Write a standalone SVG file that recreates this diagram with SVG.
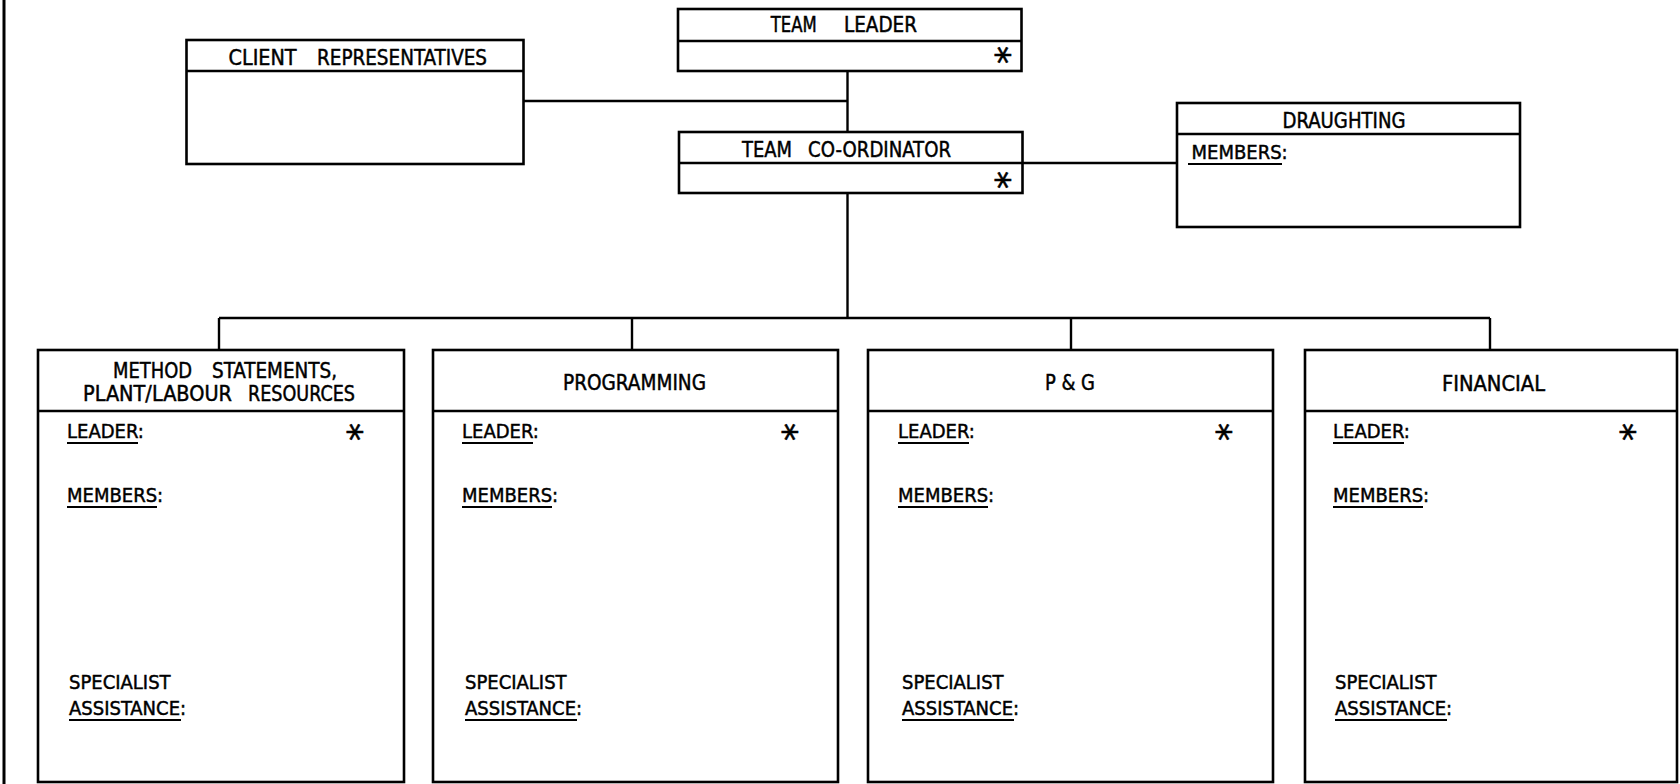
<svg xmlns="http://www.w3.org/2000/svg" width="1680" height="784" viewBox="0 0 1680 784">
<style>
  .box { fill: #fff; stroke: #000; stroke-width: 2.6; }
  .div { stroke: #000; stroke-width: 2.4; fill: none; }
  .conn { stroke: #000; stroke-width: 2.4; fill: none; }
  .ul { stroke: #000; stroke-width: 2; }
  text { font-family: "DejaVu Sans Condensed", "DejaVu Sans", sans-serif; fill: #000; stroke: #000; stroke-width: 0.45; }
  .hdr { font-size: 21px; }
  .lbl { font-size: 20px; }
  .ast { font-family: "DejaVu Sans", sans-serif; font-size: 36px; text-anchor: middle; stroke-width: 0.6; }
</style>
<rect x="0" y="0" width="1680" height="784" fill="#fff"/>
<line x1="4" y1="0" x2="4" y2="784" stroke="#000" stroke-width="3"/>

<g id="connectors">
  <path class="conn" d="M523.5 101 H847.5"/>
  <path class="conn" d="M847.5 71 V132"/>
  <path class="conn" d="M1022.5 163 H1177"/>
  <path class="conn" d="M847.5 193 V318"/>
  <path class="conn" d="M219 318 H1490"/>
  <path class="conn" d="M219 318 V350"/>
  <path class="conn" d="M632 318 V350"/>
  <path class="conn" d="M1071 318 V350"/>
  <path class="conn" d="M1490 318 V350"/>
</g>

<g id="client-representatives">
  <rect class="box" x="186.5" y="40" width="337" height="124"/>
  <line class="div" x1="186.5" y1="71" x2="523.5" y2="71"/>
  <text class="hdr" x="228.6" y="65" textLength="68" lengthAdjust="spacingAndGlyphs">CLIENT</text>
  <text class="hdr" x="317" y="65" textLength="170" lengthAdjust="spacingAndGlyphs">REPRESENTATIVES</text>
</g>

<g id="team-leader">
  <rect class="box" x="678" y="9" width="343.5" height="62"/>
  <line class="div" x1="678" y1="41" x2="1021.5" y2="41"/>
  <text class="hdr" x="770.7" y="32" textLength="46" lengthAdjust="spacingAndGlyphs">TEAM</text>
  <text class="hdr" x="844" y="32" textLength="73" lengthAdjust="spacingAndGlyphs">LEADER</text>
  <text class="ast" transform="translate(1003 55) rotate(90)" x="0" y="18">*</text>
</g>

<g id="team-coordinator">
  <rect class="box" x="679" y="132" width="343.5" height="61"/>
  <line class="div" x1="679" y1="163" x2="1022.5" y2="163"/>
  <text class="hdr" x="742" y="157" textLength="50" lengthAdjust="spacingAndGlyphs">TEAM</text>
  <text class="hdr" x="808" y="157" textLength="143" lengthAdjust="spacingAndGlyphs">CO-ORDINATOR</text>
  <text class="ast" transform="translate(1003 180) rotate(90)" x="0" y="18">*</text>
</g>

<g id="draughting">
  <rect class="box" x="1177" y="103" width="343" height="124"/>
  <line class="div" x1="1177" y1="134" x2="1520" y2="134"/>
  <text class="hdr" x="1282.5" y="128" textLength="123" lengthAdjust="spacingAndGlyphs">DRAUGHTING</text>
  <text class="lbl" x="1191.5" y="159">MEMBERS:</text>
  <line class="ul" x1="1188" y1="164" x2="1282" y2="164"/>
</g>

<g id="method-statements">
  <rect class="box" x="38" y="350" width="366" height="432"/>
  <line class="div" x1="38" y1="411" x2="404" y2="411"/>
  <text class="hdr" x="113" y="378" textLength="79" lengthAdjust="spacingAndGlyphs">METHOD</text>
  <text class="hdr" x="212" y="378" textLength="125" lengthAdjust="spacingAndGlyphs">STATEMENTS,</text>
  <text class="hdr" x="83" y="401" textLength="149" lengthAdjust="spacingAndGlyphs">PLANT/LABOUR</text>
  <text class="hdr" x="248" y="401" textLength="107" lengthAdjust="spacingAndGlyphs">RESOURCES</text>
  <text class="lbl" x="67" y="438">LEADER:</text>
  <line class="ul" x1="67" y1="443" x2="138" y2="443"/>
  <text class="ast" transform="translate(355 432) rotate(90)" x="0" y="18">*</text>
  <text class="lbl" x="67" y="502">MEMBERS:</text>
  <line class="ul" x1="67" y1="507" x2="157" y2="507"/>
  <text class="lbl" x="69" y="689">SPECIALIST</text>
  <text class="lbl" x="69" y="715">ASSISTANCE:</text>
  <line class="ul" x1="69" y1="720" x2="181" y2="720"/>
</g>

<g id="programming">
  <rect class="box" x="433" y="350" width="405" height="432"/>
  <line class="div" x1="433" y1="411" x2="838" y2="411"/>
  <text class="hdr" x="563" y="390" textLength="143" lengthAdjust="spacingAndGlyphs">PROGRAMMING</text>
  <text class="lbl" x="462" y="438">LEADER:</text>
  <line class="ul" x1="462" y1="443" x2="533" y2="443"/>
  <text class="ast" transform="translate(790 432) rotate(90)" x="0" y="18">*</text>
  <text class="lbl" x="462" y="502">MEMBERS:</text>
  <line class="ul" x1="462" y1="507" x2="552" y2="507"/>
  <text class="lbl" x="465" y="689">SPECIALIST</text>
  <text class="lbl" x="465" y="715">ASSISTANCE:</text>
  <line class="ul" x1="465" y1="720" x2="577" y2="720"/>
</g>

<g id="p-and-g">
  <rect class="box" x="868" y="350" width="405" height="432"/>
  <line class="div" x1="868" y1="411" x2="1273" y2="411"/>
  <text class="hdr" x="1045" y="390" textLength="50" lengthAdjust="spacingAndGlyphs">P &amp; G</text>
  <text class="lbl" x="898" y="438">LEADER:</text>
  <line class="ul" x1="898" y1="443" x2="969" y2="443"/>
  <text class="ast" transform="translate(1224 432) rotate(90)" x="0" y="18">*</text>
  <text class="lbl" x="898" y="502">MEMBERS:</text>
  <line class="ul" x1="898" y1="507" x2="988" y2="507"/>
  <text class="lbl" x="902" y="689">SPECIALIST</text>
  <text class="lbl" x="902" y="715">ASSISTANCE:</text>
  <line class="ul" x1="902" y1="720" x2="1014" y2="720"/>
</g>

<g id="financial">
  <rect class="box" x="1305" y="350" width="372" height="432"/>
  <line class="div" x1="1305" y1="411" x2="1677" y2="411"/>
  <text class="hdr" x="1442" y="391" textLength="103" lengthAdjust="spacingAndGlyphs">FINANCIAL</text>
  <text class="lbl" x="1333" y="438">LEADER:</text>
  <line class="ul" x1="1333" y1="443" x2="1404" y2="443"/>
  <text class="ast" transform="translate(1628 432) rotate(90)" x="0" y="18">*</text>
  <text class="lbl" x="1333" y="502">MEMBERS:</text>
  <line class="ul" x1="1333" y1="507" x2="1423" y2="507"/>
  <text class="lbl" x="1335" y="689">SPECIALIST</text>
  <text class="lbl" x="1335" y="715">ASSISTANCE:</text>
  <line class="ul" x1="1335" y1="720" x2="1447" y2="720"/>
</g>
</svg>
